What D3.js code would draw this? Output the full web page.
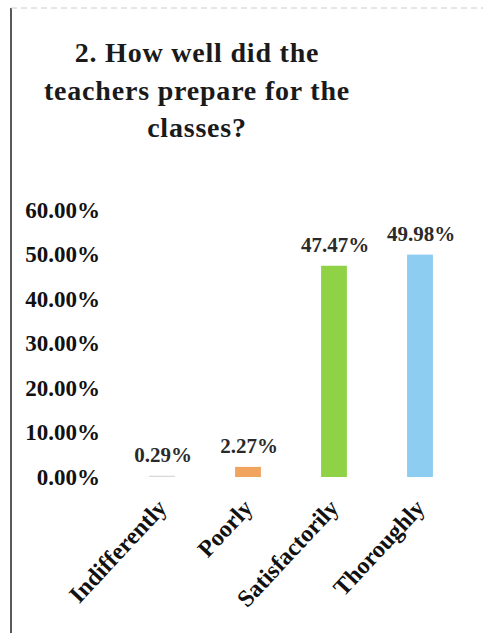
<!DOCTYPE html>
<html>
<head>
<meta charset="utf-8">
<script src="https://cdn.jsdelivr.net/npm/d3@7"></script>
<style>
  body { margin: 0; background: #fff; }
  svg { display: block; }
  text { font-family: "Liberation Serif", "Times New Roman", serif; font-weight: bold; }
</style>
</head>
<body>
<script>
const categories = ['Indifferently', 'Poorly', 'Satisfactorily', 'Thoroughly'];
const values = [0.29, 2.27, 47.47, 49.98];
const barColors = ['#d9d9d9', '#f0a45e', '#8fd245', '#8ccdf1'];
const yTicks = [0, 10, 20, 30, 40, 50, 60];
const titleLines = ['2. How well did the', 'teachers prepare for the', 'classes?'];

const width = 483;
const height = 633;

const svg = d3.select('body').append('svg')
  .attr('width', width)
  .attr('height', height);

// frame edges visible in the photo
svg.append('line')
  .attr('x1', 11).attr('x2', 11)
  .attr('y1', 8).attr('y2', height)
  .attr('stroke', '#222').attr('stroke-width', 1.5);
svg.append('line')
  .attr('x1', 11).attr('x2', width)
  .attr('y1', 8).attr('y2', 8)
  .attr('stroke', '#ccc').attr('stroke-width', 1)
  .attr('stroke-dasharray', '6,4');

svg.append('g')
  .selectAll('text')
  .data(titleLines)
  .join('text')
  .attr('x', 197)
  .attr('y', (d, i) => 62 + i * 37.5)
  .attr('text-anchor', 'middle')
  .attr('font-size', 28)
  .attr('letter-spacing', 0.8)
  .attr('fill', '#1a1a1a')
  .text((d) => d);

const x = d3.scaleBand()
  .domain(categories)
  .range([119, 463])
  .paddingInner(0.7)
  .paddingOuter(0.35);

const y = d3.scaleLinear()
  .domain([0, 60])
  .range([477, 210]);

// y axis labels only, no line or ticks
const yAxis = svg.append('g')
  .attr('transform', 'translate(100,0)')
  .call(d3.axisLeft(y).tickValues(yTicks).tickSize(0).tickPadding(0)
    .tickFormat((d) => `${d.toFixed(2)}%`));
yAxis.select('.domain').remove();
yAxis.selectAll('text')
  .attr('font-family', '"Liberation Serif", serif')
  .attr('font-weight', 'bold')
  .attr('font-size', 23)
  .attr('fill', '#111');

svg.append('g')
  .selectAll('rect')
  .data(values)
  .join('rect')
  .attr('x', (d, i) => x(categories[i]))
  .attr('y', (d) => y(d))
  .attr('width', x.bandwidth())
  .attr('height', (d) => y(0) - y(d))
  .attr('fill', (d, i) => barColors[i]);

svg.append('g')
  .selectAll('text')
  .data(values)
  .join('text')
  .attr('x', (d, i) => x(categories[i]) + x.bandwidth() / 2 + 1)
  .attr('y', (d) => y(d) - 14)
  .attr('text-anchor', 'middle')
  .attr('font-size', 21)
  .attr('fill', '#2a2a2a')
  .text((d) => `${d.toFixed(2)}%`);

// rotated category labels
const xAxis = svg.append('g')
  .attr('transform', 'translate(0,477)')
  .call(d3.axisBottom(x).tickSize(0).tickPadding(0));
xAxis.select('.domain').remove();
xAxis.selectAll('text')
  .attr('font-family', '"Liberation Serif", serif')
  .attr('font-weight', 'bold')
  .attr('font-size', 24)
  .attr('fill', '#111')
  .attr('text-anchor', 'end')
  .attr('dy', 0)
  .attr('transform', 'translate(6,32) rotate(-47)');
</script>
</body>
</html>
